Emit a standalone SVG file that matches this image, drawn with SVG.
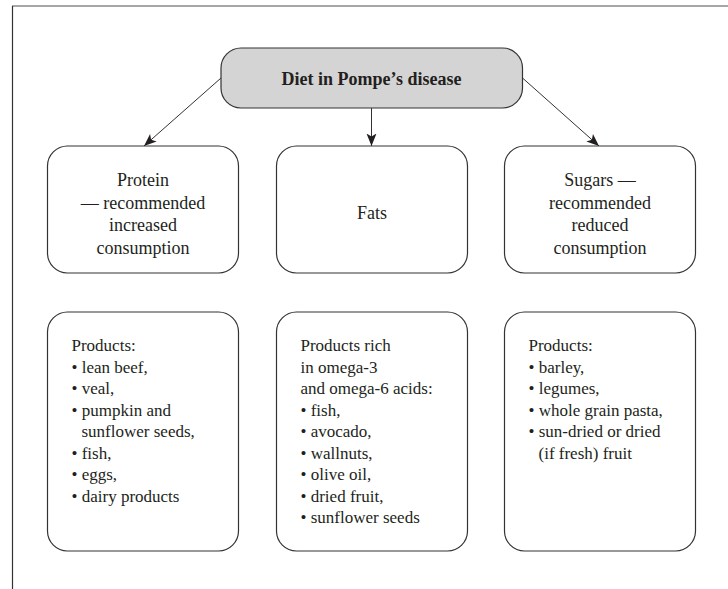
<svg xmlns="http://www.w3.org/2000/svg" width="728" height="589" viewBox="0 0 728 589">
<defs>
<style>
.box{fill:#fff;stroke:#333;stroke-width:1.2}
.root{fill:#d4d4d4;stroke:#333;stroke-width:1.2}
.t{font-family:"Liberation Serif","Times New Roman",serif;fill:#231f20}
.c{font-size:18px;text-anchor:middle}
.b{font-size:17px}
.h{font-size:18px;font-weight:bold;text-anchor:middle}
.edge{stroke:#333;stroke-width:1;fill:none;marker-end:url(#arr)}
</style>
<marker id="arr" markerUnits="userSpaceOnUse" markerWidth="14" markerHeight="12" refX="12.5" refY="5" orient="auto">
<path d="M0,0 L12.5,5 L0,10 L3,5 z" fill="#231f20"/>
</marker>
</defs>
<rect width="728" height="589" fill="#fff"/>
<g id="frame">
<line x1="12" y1="6" x2="728" y2="6" stroke="#8a8a8a" stroke-width="1.6"/>
<line x1="12.5" y1="6" x2="12.5" y2="589" stroke="#333" stroke-width="1.2"/>
</g>
<g id="connectors">
<line class="edge" x1="221" y1="78" x2="144" y2="146"/>
<line class="edge" x1="371.5" y1="108" x2="371.5" y2="146"/>
<line class="edge" x1="522.5" y1="78" x2="599" y2="146"/>
</g>
<g id="root">
<rect class="root" x="221" y="48" width="301.5" height="60" rx="20"/>
<text class="t h" x="371.5" y="85">Diet in Pompe’s disease</text>
</g>
<g id="protein">
<rect class="box" x="47.5" y="146" width="191" height="127" rx="20"/>
<text class="t c" x="143" y="186">Protein</text>
<text class="t c" x="143" y="208.5">— recommended</text>
<text class="t c" x="143" y="231">increased</text>
<text class="t c" x="143" y="253.5">consumption</text>
</g>
<g id="fats">
<rect class="box" x="276.5" y="146" width="191" height="127" rx="20"/>
<text class="t c" x="372" y="219">Fats</text>
</g>
<g id="sugars">
<rect class="box" x="504.5" y="146" width="191" height="127" rx="20"/>
<text class="t c" x="600" y="186">Sugars —</text>
<text class="t c" x="600" y="208.5">recommended</text>
<text class="t c" x="600" y="231">reduced</text>
<text class="t c" x="600" y="253.5">consumption</text>
</g>
<g id="protein-products">
<rect class="box" x="47.5" y="312" width="191" height="239" rx="20"/>
<text class="t b" x="71.5" y="351">Products:</text>
<text class="t b" x="71.5" y="372.5">• lean beef,</text>
<text class="t b" x="71.5" y="394">• veal,</text>
<text class="t b" x="71.5" y="415.5">• pumpkin and</text>
<text class="t b" x="81.5" y="437">sunflower seeds,</text>
<text class="t b" x="71.5" y="458.5">• fish,</text>
<text class="t b" x="71.5" y="480">• eggs,</text>
<text class="t b" x="71.5" y="501.5">• dairy products</text>
</g>
<g id="fats-products">
<rect class="box" x="276.5" y="312" width="191" height="239" rx="20"/>
<text class="t b" x="300.5" y="351">Products rich</text>
<text class="t b" x="300.5" y="372.5">in omega-3</text>
<text class="t b" x="300.5" y="394">and omega-6 acids:</text>
<text class="t b" x="300.5" y="415.5">• fish,</text>
<text class="t b" x="300.5" y="437">• avocado,</text>
<text class="t b" x="300.5" y="458.5">• wallnuts,</text>
<text class="t b" x="300.5" y="480">• olive oil,</text>
<text class="t b" x="300.5" y="501.5">• dried fruit,</text>
<text class="t b" x="300.5" y="523">• sunflower seeds</text>
</g>
<g id="sugars-products">
<rect class="box" x="504.5" y="312" width="191" height="239" rx="20"/>
<text class="t b" x="528.5" y="351">Products:</text>
<text class="t b" x="528.5" y="372.5">• barley,</text>
<text class="t b" x="528.5" y="394">• legumes,</text>
<text class="t b" x="528.5" y="415.5">• whole grain pasta,</text>
<text class="t b" x="528.5" y="437">• sun-dried or dried</text>
<text class="t b" x="538.5" y="458.5">(if fresh) fruit</text>
</g>
</svg>
